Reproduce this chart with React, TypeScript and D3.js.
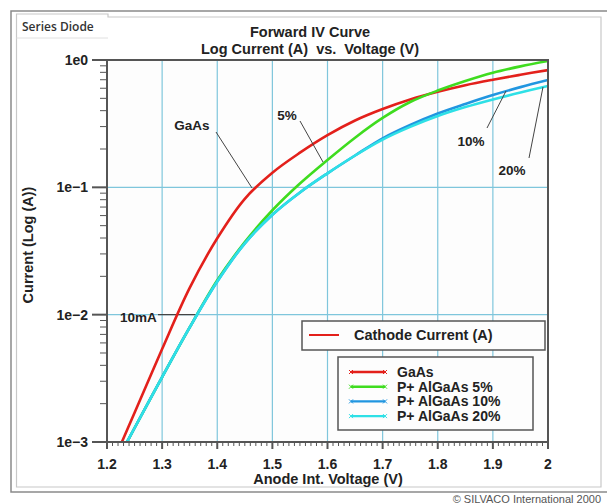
import React from "react";
import * as d3 from "d3";

const voltage = [1.22, 1.25, 1.3, 1.35, 1.4, 1.45, 1.5, 1.55, 1.6, 1.65, 1.7, 1.75, 1.8, 1.85, 1.9, 1.95, 2.0];
const gaas = [0.000851, 0.001698, 0.00537, 0.016218, 0.039811, 0.081283, 0.130317, 0.187068, 0.25704, 0.334965, 0.412098, 0.489779, 0.562341, 0.63387, 0.699842, 0.765597, 0.833681];
const algaas5 = [0.000741, 0.001288, 0.003236, 0.007943, 0.018621, 0.037154, 0.066069, 0.107152, 0.164059, 0.245471, 0.350752, 0.467735, 0.57544, 0.683912, 0.794328, 0.891251, 0.981748];
const algaas10 = [0.000741, 0.001288, 0.003236, 0.007943, 0.018197, 0.036308, 0.060954, 0.091201, 0.128825, 0.177828, 0.242661, 0.30903, 0.380189, 0.451856, 0.530884, 0.61235, 0.696627];
const algaas20 = [0.000741, 0.001288, 0.003236, 0.007943, 0.018197, 0.036308, 0.060954, 0.091201, 0.128825, 0.177828, 0.237137, 0.298538, 0.363078, 0.42658, 0.489779, 0.555904, 0.625173];

const seriesNames = ["GaAs", "P+ AlGaAs 5%", "P+ AlGaAs 10%", "P+ AlGaAs 20%"];
const seriesColors = ["#e3201b", "#3fdc1f", "#2196e0", "#2ee0e6"];
const seriesValues = [gaas, algaas5, algaas10, algaas20];
const drawOrder = [0, 1, 2, 3];

const xTicks = [1.2, 1.3, 1.4, 1.5, 1.6, 1.7, 1.8, 1.9, 2.0];
const xTickLabels = ["1.2", "1.3", "1.4", "1.5", "1.6", "1.7", "1.8", "1.9", "2"];
const yTicks = [1e-3, 1e-2, 1e-1, 1];
const yTickLabels = ["1e\u22123", "1e\u22122", "1e\u22121", "1e0"];

const annotations = [
  { text: "GaAs", lx: 192, ly: 130, x1: 216, y1: 132, x2: 252, y2: 188 },
  { text: "5%", lx: 287, ly: 120, x1: 300, y1: 121, x2: 323, y2: 162 },
  { text: "10%", lx: 471, ly: 146, x1: 487, y1: 128, x2: 506, y2: 91 },
  { text: "20%", lx: 512, ly: 175, x1: 529, y1: 158, x2: 543, y2: 87 },
];

const font = "'Liberation Sans', Arial, Helvetica, sans-serif";

export default function App() {
  const left = 107, right = 548, top = 60, bottom = 442;
  const x = d3.scaleLinear().domain([1.2, 2.0]).range([left, right]);
  const y = d3.scaleLog().domain([1e-3, 1]).range([bottom, top]);

  const line = (vals: number[]) =>
    d3
      .line<number>()
      .x((_, i) => x(voltage[i]))
      .y((d) => y(d))
      .curve(d3.curveCatmullRom.alpha(0.5))(vals) || "";

  const xMinor = d3.range(0, 81).map((i) => 1.2 + i * 0.01);
  const yMinor: number[] = [];
  [-3, -2, -1].forEach((e) => {
    for (let k = 2; k <= 9; k++) yMinor.push(k * Math.pow(10, e));
  });

  const gridColor = "#7fc6dc";
  const axisColor = "#555";

  return (
    <svg width={607} height={504} style={{ position: "absolute", left: 0, top: 0, background: "#fff" }}>
      <defs>
        <clipPath id="plot">
          <rect x={left} y={top} width={right - left} height={bottom - top} />
        </clipPath>
      </defs>
      {/* outer frame */}
      <path d="M607,11 H11 V492 H607" fill="none" stroke="#8a8a8a" strokeWidth={1.5} />
      {/* tab & panel */}
      <path d="M16.5,487 V14 H108 V17 H601 V487 Z" fill="#fff" stroke="#c8c8c8" strokeWidth={1.2} />
      <line x1={16.5} x2={108} y1={38} y2={38} stroke="#e0e0e0" strokeWidth={1} />
      <text x={22} y={31} fontFamily="'Open Sans', sans-serif" fontSize={12} fontWeight={600} fill="#333">
        Series Diode
      </text>

      {/* title */}
      <text x={310} y={37} textAnchor="middle" fontFamily={font} fontWeight="bold" fontSize={14.5} fill="#222">
        Forward IV Curve
      </text>
      <text x={310} y={54} textAnchor="middle" fontFamily={font} fontWeight="bold" fontSize={14.5} fill="#222" style={{ whiteSpace: "pre" }}>
        {"Log Current (A)  vs.  Voltage (V)"}
      </text>

      {/* plot background */}
      <rect x={left} y={top} width={right - left} height={bottom - top} fill="#fdfdfd" />

      {/* grid */}
      {xTicks.slice(1, -1).map((t) => (
        <line key={"gx" + t} x1={x(t)} x2={x(t)} y1={top} y2={bottom} stroke={gridColor} strokeWidth={1.2} />
      ))}
      {yTicks.slice(1, -1).map((t) => (
        <line key={"gy" + t} x1={left} x2={right} y1={y(t)} y2={y(t)} stroke={gridColor} strokeWidth={1.2} />
      ))}
      <line x1={158} x2={x(1.362)} y1={y(1e-2)} y2={y(1e-2)} stroke="#444" strokeWidth={1.2} />

      {/* curves */}
      <g clipPath="url(#plot)">
        {drawOrder.map((si) => (
          <path key={si} d={line(seriesValues[si])} fill="none" stroke={seriesColors[si]} strokeWidth={2.6} strokeLinejoin="round" />
        ))}
      </g>

      {/* frame */}
      <rect x={left} y={top} width={right - left} height={bottom - top} fill="none" stroke={axisColor} strokeWidth={2} />

      {/* x ticks */}
      {xMinor.map((t, i) => (
        <line key={"xm" + i} x1={x(t)} x2={x(t)} y1={bottom} y2={bottom + (i % 10 === 0 ? 7 : 4)} stroke={axisColor} strokeWidth={i % 10 === 0 ? 2 : 1} />
      ))}
      {xTicks.map((t, i) => (
        <text key={"xl" + t} x={x(t)} y={469} textAnchor="middle" fontFamily={font} fontWeight="bold" fontSize={14} fill="#222">
          {xTickLabels[i]}
        </text>
      ))}
      <text x={328} y={484} textAnchor="middle" fontFamily={font} fontWeight="bold" fontSize={14.5} fill="#222">
        Anode Int. Voltage (V)
      </text>

      {/* y ticks */}
      {yMinor.map((t) => (
        <line key={"ym" + t} x1={left - 7} x2={left} y1={y(t)} y2={y(t)} stroke={axisColor} strokeWidth={1} />
      ))}
      {yTicks.map((t, i) => (
        <g key={"yl" + t}>
          <line x1={left - 15} x2={left} y1={y(t)} y2={y(t)} stroke={axisColor} strokeWidth={2} />
          <text x={88} y={y(t) + 5} textAnchor="end" fontFamily={font} fontWeight="bold" fontSize={14} fill="#222">
            {yTickLabels[i]}
          </text>
        </g>
      ))}
      <text transform="translate(33,245) rotate(-90)" textAnchor="middle" fontFamily={font} fontWeight="bold" fontSize={14.5} fill="#222">
        Current (Log (A))
      </text>

      {/* annotations */}
      {annotations.map((a) => (
        <g key={a.text}>
          <line x1={a.x1} y1={a.y1} x2={a.x2} y2={a.y2} stroke="#444" strokeWidth={1} />
          <text x={a.lx} y={a.ly} textAnchor="middle" fontFamily={font} fontWeight="bold" fontSize={13.5} fill="#222">
            {a.text}
          </text>
        </g>
      ))}
      <text x={120} y={322} fontFamily={font} fontWeight="bold" fontSize={13.5} fill="#222">
        10mA
      </text>

      {/* legend 1 */}
      <rect x={302} y={321} width={243} height={29} fill="#fdfdfd" stroke={axisColor} strokeWidth={1.5} />
      <line x1={309} x2={339} y1={335} y2={335} stroke={seriesColors[0]} strokeWidth={2} />
      <text x={354} y={340} fontFamily={font} fontWeight="bold" fontSize={14.5} fill="#222">
        Cathode Current (A)
      </text>

      {/* legend 2 */}
      <rect x={338} y={357} width={195} height={73} fill="#fdfdfd" stroke={axisColor} strokeWidth={1.5} />
      {seriesNames.map((n, i) => {
        const yy = 372 + i * 14.7;
        return (
          <g key={n}>
            <line x1={351} x2={385} y1={yy} y2={yy} stroke={seriesColors[i]} strokeWidth={2.4} />
            {[351, 385].map((cx) => (
              <path key={cx} d={`M${cx - 2},${yy - 2} L${cx + 2},${yy + 2} M${cx - 2},${yy + 2} L${cx + 2},${yy - 2}`} stroke={seriesColors[i]} strokeWidth={1} />
            ))}
            <text x={397} y={yy + 5} fontFamily={font} fontWeight="bold" fontSize={14} fill="#222">
              {n}
            </text>
          </g>
        );
      })}

      <text x={601} y={503} textAnchor="end" fontFamily={font} fontSize={11} fill="#555">
        © SILVACO International 2000
      </text>
    </svg>
  );
}
